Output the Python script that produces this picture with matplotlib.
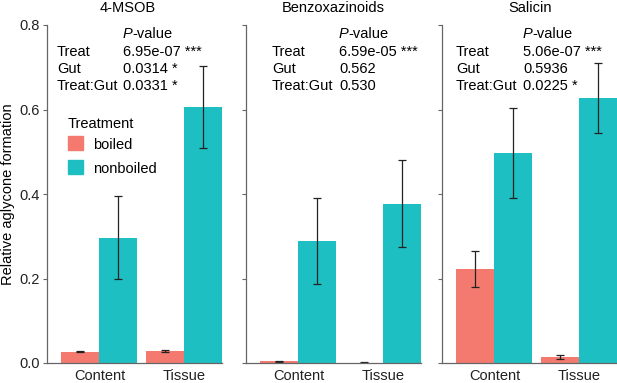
import matplotlib
matplotlib.use("Agg")
import matplotlib.pyplot as plt
import numpy as np

plt.rcParams.update({
    "font.family": ["Liberation Sans", "DejaVu Sans"],
    "font.size": 10,
})

W, H = 617, 383

# data
compounds = ["4-MSOB", "Benzoxazinoids", "Salicin"]
guts = ["Content", "Tissue"]
boiled_mean = [[0.027, 0.028], [0.004, 0.001], [0.222, 0.014]]
boiled_err = [[0.002, 0.002], [0.001, 0.0005], [0.043, 0.004]]
nonboiled_mean = [[0.297, 0.606], [0.289, 0.377], [0.497, 0.628]]
nonboiled_err = [[0.098, 0.097], [0.101, 0.103], [0.107, 0.083]]
yticks = [0.0, 0.2, 0.4, 0.6, 0.8]

terms = ["Treat", "Gut", "Treat:Gut"]
pvals = [["6.95e-07 ***", "0.0314 *", "0.0331 *"],
         ["6.59e-05 ***", "0.562", "0.530"],
         ["5.06e-07 ***", "0.5936", "0.0225 *"]]

COL_BOILED = "#F47A70"
COL_NONBOILED = "#1EBFC2"
AXCOL = "#666666"

# layout in pixels
panel_left = [47, 246, 442]
panel_w = 175
y_top, y_bot = 25, 363
title_x = [128, 333, 530]
label_x = [57, 272, 456]
value_x = [123, 339, 523]


def fx(x):
    return x / W


def fy(y):
    return 1 - y / H


fig = plt.figure(figsize=(W / 100, H / 100), dpi=100)

bw = 0.45
for i in range(3):
    ax = fig.add_axes([fx(panel_left[i]), fy(y_bot), panel_w / W, (y_bot - y_top) / H])
    x = np.arange(len(guts))
    ekw = dict(ecolor="#222222", elinewidth=0.9, capsize=3, capthick=0.9)
    ax.bar(x - bw / 2, boiled_mean[i], bw, yerr=boiled_err[i], color=COL_BOILED,
           error_kw=ekw, zorder=2)
    ax.bar(x + bw / 2, nonboiled_mean[i], bw, yerr=nonboiled_err[i], color=COL_NONBOILED,
           error_kw=ekw, zorder=2)
    ax.set_xlim(-0.62, 1.45)
    ax.set_ylim(0, 0.8)
    ax.set_yticks(yticks)
    if i == 0:
        ax.set_yticklabels([f"{t:.1f}" for t in yticks], fontsize=10.5, color="#222222")
        ax.set_ylabel("Relative aglycone formation", fontsize=10.5, labelpad=3)
    else:
        ax.set_yticklabels([])
    ax.set_xticks(x)
    ax.set_xticklabels(guts, fontsize=10.5, color="#222222")
    ax.tick_params(axis="x", length=0, pad=4)
    ax.tick_params(axis="y", length=3, width=0.8, color=AXCOL, pad=2)
    for s in ["top", "right"]:
        ax.spines[s].set_visible(False)
    for s in ["left", "bottom"]:
        ax.spines[s].set_color(AXCOL)
        ax.spines[s].set_linewidth(0.9)

    fig.text(fx(title_x[i]), fy(8), compounds[i], ha="center", va="center", fontsize=10.5)

    # P-value table
    t = fig.text(fx(value_x[i]), fy(34), "P", ha="left", va="center",
                 fontsize=10.5, style="italic")
    ax.annotate("-value", xy=(1, 0), xycoords=t, ha="left", va="bottom", fontsize=10.5)
    for k, term in enumerate(terms):
        yy = 52 + 17 * k
        fig.text(fx(label_x[i]), fy(yy), term, ha="left", va="center", fontsize=10.5)
        fig.text(fx(value_x[i]), fy(yy), pvals[i][k], ha="left", va="center", fontsize=10.5)

# legend
fig.text(fx(68), fy(124), "Treatment", ha="left", va="center", fontsize=10.5)
for k, (lab, col) in enumerate([("boiled", COL_BOILED), ("nonboiled", COL_NONBOILED)]):
    yc = 143 + 24 * k
    fig.patches.append(plt.Rectangle((fx(68), fy(yc + 7)), 15 / W, 14 / H,
                                     transform=fig.transFigure, color=col, figure=fig))
    fig.text(fx(93), fy(yc + 2), lab, ha="left", va="center", fontsize=10.5)

fig.savefig("out.png", dpi=100)
